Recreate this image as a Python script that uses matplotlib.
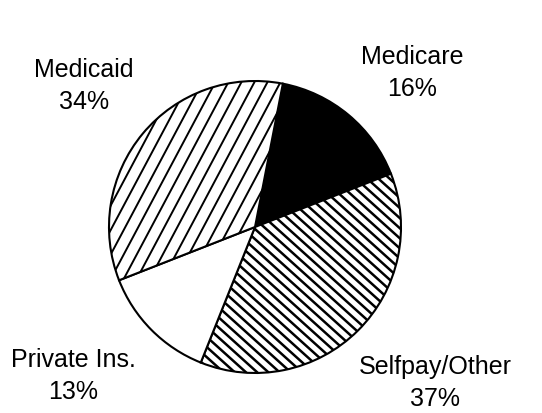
import numpy as np
import matplotlib.pyplot as plt

labels = ["Medicare", "Selfpay/Other", "Private Ins.", "Medicaid"]
shares = [16, 37, 13, 34]

plt.rcParams['font.family'] = ['Liberation Sans', 'DejaVu Sans']

fig = plt.figure(figsize=(5.42, 4.14), dpi=100)
ax = fig.add_axes([0, 0, 1, 1])

cx, cy, r = 255, 186, 146
wedges, _ = ax.pie(shares, startangle=79, counterclock=False, center=(cx, cy),
                   radius=r, frame=True, colors=["black", "white", "white", "white"],
                   wedgeprops=dict(edgecolor="black", linewidth=1.5))

# hand-drawn style hatching, clipped to each wedge
def hatch(wedge, angle, gap, lw):
    a = np.deg2rad(angle)
    d = np.array([np.cos(a), np.sin(a)])
    n = np.array([-d[1], d[0]])
    for k in np.arange(-r * 1.5, r * 1.5, gap):
        p0 = np.array([cx, cy]) + n * k - d * r * 1.5
        p1 = np.array([cx, cy]) + n * k + d * r * 1.5
        ln, = ax.plot([p0[0], p1[0]], [p0[1], p1[1]], color="black", lw=lw,
                      solid_capstyle="butt")
        ln.set_clip_path(wedge)

hatch(wedges[3], 62, 11.5, 1.4)
hatch(wedges[1], -42, 7.5, 1.8)

ax.set_xlim(0, 542)
ax.set_ylim(0, 414)
ax.set_aspect("equal")
ax.axis("off")

label_pos = {"Medicare": (412, 341), "Selfpay/Other": (435, 31),
             "Private Ins.": (73, 38), "Medicaid": (84, 328)}
for name, val in zip(labels, shares):
    x, y = label_pos[name]
    ax.text(x, y, f"{name}\n{val}%", ha="center", va="center", fontsize=18,
            linespacing=1.38)

fig.savefig("out.png", dpi=100)
